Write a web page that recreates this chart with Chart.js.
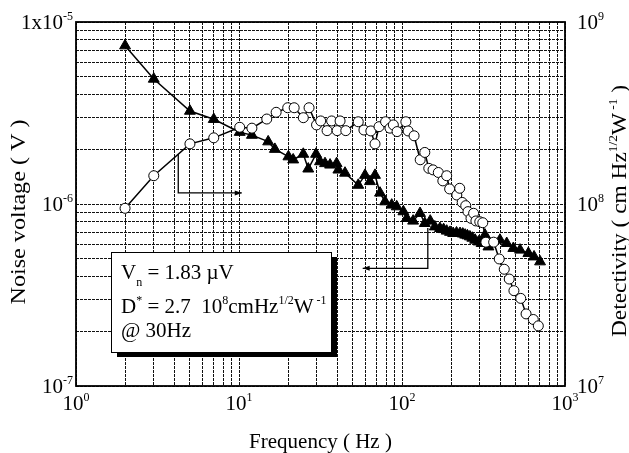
<!DOCTYPE html>
<html>
<head>
<meta charset="utf-8">
<script src="https://cdn.jsdelivr.net/npm/chart.js@4/dist/chart.umd.min.js"></script>
<style>
  body { margin: 0; background: #fff; }
  canvas { display: block; }
</style>
</head>
<body>
<canvas id="chart" width="629" height="453"></canvas>
<script>
// noise voltage (filled triangles, left axis)
const freqV = [2, 3, 5, 7, 10.1, 12, 15.1, 16.6, 20.1, 21.5, 24.8, 26.6, 29.7, 31.4, 33.7, 36.2, 39.7, 40.7, 44.7,
  53.9, 59.3, 63.6, 68.3, 73.3, 78.7, 86.5, 92.8, 102, 107, 117, 129, 138, 149, 159, 171, 180, 188, 197, 206, 216, 227,
  236, 244, 252, 261, 270, 281, 295, 308, 323, 339, 399, 439, 482, 530, 596, 646, 703];
const noiseV = [7.41e-6, 4.86e-6, 3.24e-6, 2.92e-6, 2.48e-6, 2.39e-6, 2.20e-6, 2.00e-6, 1.82e-6, 1.75e-6, 1.88e-6,
  1.56e-6, 1.88e-6, 1.71e-6, 1.67e-6, 1.64e-6, 1.67e-6, 1.54e-6, 1.48e-6,
  1.27e-6, 1.44e-6, 1.33e-6, 1.44e-6, 1.15e-6, 1.03e-6, 9.88e-7, 9.67e-7, 9.08e-7, 8.34e-7, 8.07e-7, 8.89e-7,
  7.83e-7, 8.07e-7, 7.50e-7, 7.35e-7, 7.25e-7, 7.11e-7, 7.0e-7, 6.90e-7, 6.95e-7, 6.90e-7,
  6.85e-7, 6.76e-7, 6.70e-7, 6.61e-7, 6.50e-7, 6.34e-7, 6.20e-7, 6.08e-7, 6.76e-7, 5.82e-7, 6.34e-7, 6.08e-7,
  5.71e-7, 5.59e-7, 5.36e-7, 5.13e-7, 4.82e-7];

// detectivity (open circles, right axis)
const freqD = [2, 3, 5, 7, 10.1, 12, 14.8, 16.9, 19.9, 21.8, 24.8, 26.9, 29.9, 31.7, 34.7, 37, 40, 41.7, 45.2,
  53.9, 58.4, 64.4, 68.3, 72.3, 79.3, 84.4, 88.5, 93.3, 105.6, 109, 118.6, 129.3, 138, 146, 155, 167, 178, 188,
  196, 217, 226, 234, 246, 254, 265, 275, 284, 300, 313, 327, 365, 395, 424, 455, 486, 535, 577, 639, 686];
const detD = [9.47e7, 1.43e8, 2.14e8, 2.31e8, 2.64e8, 2.61e8, 2.93e8, 3.19e8, 3.38e8, 3.38e8, 2.98e8, 3.38e8,
  2.72e8, 2.86e8, 2.53e8, 2.86e8, 2.53e8, 2.86e8, 2.53e8,
  2.83e8, 2.55e8, 2.52e8, 2.14e8, 2.66e8, 2.83e8, 2.61e8, 2.72e8, 2.50e8, 2.83e8, 2.52e8, 2.37e8, 1.75e8,
  1.92e8, 1.57e8, 1.54e8, 1.49e8, 1.34e8, 1.43e8,
  1.21e8, 1.12e8, 1.22e8, 1.02e8, 9.79e7, 9.08e7, 8.34e7, 8.89e7, 8.07e7, 7.99e7, 7.89e7, 6.17e7, 6.17e7,
  4.99e7, 4.38e7, 3.87e7, 3.34e7, 3.03e7, 2.49e7, 2.32e7, 2.14e7];

// decade tick labels: value, base, exponent
const xTickLabels = [[1, '10', '0'], [10, '10', '1'], [100, '10', '2'], [1000, '10', '3']];
const yLeftLabels = [[1e-5, '1x10', '-5'], [1e-6, '10', '-6'], [1e-7, '10', '-7']];
const yRightLabels = [[1e9, '10', '9'], [1e8, '10', '8'], [1e7, '10', '7']];

// annotation arrows, in data units (x, left-axis y)
const arrowToRight = [[4.24, 1.88e-6], [4.24, 1.15e-6], [10.4, 1.15e-6]];
const arrowToLeft = [[144, 7.38e-7], [144, 4.43e-7], [57.4, 4.43e-7]];

const BIG = '21px "Liberation Serif"';
const SMALL = '12px "Liberation Serif"';

function logGrid(min, max) {
  const vals = [];
  for (let d = min; d < max; d *= 10) {
    for (let k = 1; k < 10; k++) vals.push(d * k);
  }
  vals.push(max);
  return vals.map(v => ({ value: v }));
}

function richWidth(ctx, parts) {
  let w = 0;
  parts.forEach(p => {
    ctx.font = (p.sup || p.sub) ? SMALL : BIG;
    w += ctx.measureText(p.t).width;
  });
  return w;
}

function drawRich(ctx, parts, x, y) {
  parts.forEach(p => {
    ctx.font = (p.sup || p.sub) ? SMALL : BIG;
    const dy = p.sup ? -9 : (p.sub ? 7 : 0);
    ctx.fillText(p.t, x, y + dy);
    x += ctx.measureText(p.t).width;
  });
}

function drawRotated(ctx, parts, cx, cy, length) {
  const w = richWidth(ctx, parts);
  ctx.save();
  ctx.translate(cx, cy);
  ctx.rotate(-Math.PI / 2);
  ctx.scale(length / w, 1);
  drawRich(ctx, parts, -w / 2, 0);
  ctx.restore();
}

function drawArrow(ctx, pts) {
  ctx.save();
  ctx.strokeStyle = '#000';
  ctx.fillStyle = '#000';
  ctx.lineWidth = 1.3;
  ctx.beginPath();
  pts.forEach((p, i) => i ? ctx.lineTo(p[0], p[1]) : ctx.moveTo(p[0], p[1]));
  ctx.stroke();
  const [a, b] = pts.slice(-2);
  const dir = Math.sign(b[0] - a[0]);
  ctx.beginPath();
  ctx.moveTo(b[0], b[1]);
  ctx.lineTo(b[0] - dir * 7, b[1] - 2.5);
  ctx.lineTo(b[0] - dir * 7, b[1] + 2.5);
  ctx.closePath();
  ctx.fill();
  ctx.restore();
}

const decorPlugin = {
  id: 'decor',
  beforeDraw(chart) {
    const ctx = chart.ctx;
    ctx.save();
    ctx.fillStyle = '#fff';
    ctx.fillRect(0, 0, chart.width, chart.height);
    ctx.restore();
  },
  afterDraw(chart) {
    const ctx = chart.ctx;
    const { left, right, top, bottom } = chart.chartArea;
    const sx = chart.scales.x, sy = chart.scales.y, sy1 = chart.scales.y1;
    ctx.save();

    // frame
    ctx.strokeStyle = '#000';
    ctx.lineWidth = 1.8;
    ctx.strokeRect(left, top, right - left, bottom - top);

    // arrows
    const toPx = pts => pts.map(p => [sx.getPixelForValue(p[0]), sy.getPixelForValue(p[1])]);
    drawArrow(ctx, toPx(arrowToRight));
    drawArrow(ctx, toPx(arrowToLeft));

    // text box with shadow
    const bx = left + 35, by = top + 230, bw = 220, bh = 100;
    ctx.fillStyle = '#000';
    ctx.fillRect(bx + 6, by + 5, bw, bh);
    ctx.fillStyle = '#fff';
    ctx.fillRect(bx, by, bw, bh);
    ctx.lineWidth = 1;
    ctx.strokeRect(bx + 0.5, by + 0.5, bw, bh);
    ctx.fillStyle = '#000';
    ctx.textBaseline = 'alphabetic';
    ctx.textAlign = 'left';
    const tx = bx + 10;
    drawRich(ctx, [{ t: 'V' }, { t: 'n', sub: true }, { t: ' = 1.83 µV' }], tx, by + 27);
    drawRich(ctx, [{ t: 'D' }, { t: '*', sup: true }, { t: ' = 2.7  10' }, { t: '8', sup: true },
      { t: 'cmHz' }, { t: '1/2', sup: true }, { t: 'W' }, { t: ' -1', sup: true }], tx, by + 61);
    drawRich(ctx, [{ t: '@ 30Hz' }], tx, by + 85);

    // tick labels
    xTickLabels.forEach(([v, b, e]) => {
      const parts = [{ t: b }, { t: e, sup: true }];
      const w = richWidth(ctx, parts);
      drawRich(ctx, parts, sx.getPixelForValue(v) - w / 2, bottom + 24);
    });
    yLeftLabels.forEach(([v, b, e]) => {
      const parts = [{ t: b }, { t: e, sup: true }];
      const w = richWidth(ctx, parts);
      drawRich(ctx, parts, left - 3 - w, sy.getPixelForValue(v) + 7);
    });
    yRightLabels.forEach(([v, b, e]) => {
      drawRich(ctx, [{ t: b }, { t: e, sup: true }], right + 12, sy1.getPixelForValue(v) + 7);
    });

    // axis titles
    const xt = [{ t: 'Frequency ( Hz )' }];
    drawRich(ctx, xt, (left + right) / 2 - richWidth(ctx, xt) / 2, 448);
    drawRotated(ctx, [{ t: 'Noise voltage ( V )' }], 25, 212, 185);
    drawRotated(ctx, [{ t: 'Detectivity ( cm Hz' }, { t: '1/2', sup: true }, { t: 'W' }, { t: ' -1', sup: true }, { t: ' )' }],
      626, 211, 252);

    ctx.restore();
  }
};

const gridStyle = { color: '#111', lineWidth: 1, drawTicks: false };

new Chart(document.getElementById('chart'), {
  type: 'line',
  data: {
    datasets: [
      {
        label: 'Detectivity',
        data: freqD.map((f, i) => ({ x: f, y: detD[i] })),
        yAxisID: 'y1',
        order: 0,
        borderColor: '#000',
        borderWidth: 1.5,
        pointStyle: 'circle',
        pointRadius: 5,
        pointBackgroundColor: '#fff',
        pointBorderColor: '#000',
        pointBorderWidth: 1,
        tension: 0
      },
      {
        label: 'Noise voltage',
        data: freqV.map((f, i) => ({ x: f, y: noiseV[i] })),
        yAxisID: 'y',
        order: 1,
        borderColor: '#000',
        borderWidth: 1.5,
        pointStyle: 'triangle',
        pointRadius: 6.3,
        pointBackgroundColor: '#000',
        pointBorderColor: '#000',
        pointBorderWidth: 1,
        tension: 0
      }
    ]
  },
  options: {
    responsive: false,
    animation: false,
    devicePixelRatio: 1,
    layout: { padding: { top: 22, left: 0, right: 0, bottom: 0 } },
    plugins: { legend: { display: false }, tooltip: { enabled: false } },
    scales: {
      x: {
        type: 'logarithmic', position: 'bottom', min: 1, max: 1000,
        afterBuildTicks: s => { s.ticks = logGrid(1, 1000); },
        afterFit: s => { s.height = 67; },
        ticks: { display: false },
        grid: gridStyle,
        border: { display: false, dash: [3, 1] }
      },
      y: {
        type: 'logarithmic', position: 'left', min: 1e-7, max: 1e-5,
        afterBuildTicks: s => { s.ticks = logGrid(1e-7, 1e-5); },
        afterFit: s => { s.width = 76; },
        ticks: { display: false },
        grid: gridStyle,
        border: { display: false, dash: [3, 1] }
      },
      y1: {
        type: 'logarithmic', position: 'right', min: 1e7, max: 1e9,
        afterBuildTicks: s => { s.ticks = logGrid(1e7, 1e9); },
        afterFit: s => { s.width = 64; },
        ticks: { display: false },
        grid: { display: false },
        border: { display: false }
      }
    }
  },
  plugins: [decorPlugin]
});
</script>
</body>
</html>
